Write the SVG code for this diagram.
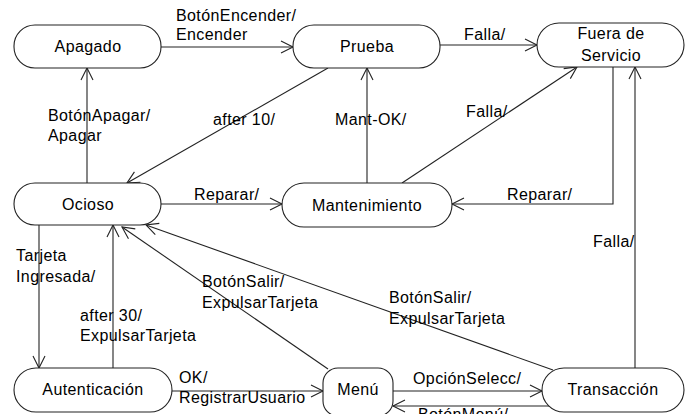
<svg xmlns="http://www.w3.org/2000/svg" width="691" height="414" viewBox="0 0 691 414">
<style>
.n{fill:#fff;stroke:#222;stroke-width:1.1}
.e{fill:none;stroke:#222;stroke-width:1.1;marker-end:url(#a)}
text{font-family:"Liberation Sans",Arial,sans-serif;font-size:16px;letter-spacing:0.4px;fill:#000}
.c{text-anchor:middle}
</style>
<defs>
<marker id="a" markerUnits="userSpaceOnUse" markerWidth="14" markerHeight="14" refX="12" refY="6" orient="auto" overflow="visible">
<path d="M0,0 L12,6 L0,12" fill="none" stroke="#222" stroke-width="1.1"/>
</marker>
</defs>
<rect width="691" height="414" fill="#fff"/>
<g id="connectors">
<line class="e" x1="161" y1="47" x2="293" y2="47"/>
<line class="e" x1="440" y1="45" x2="537" y2="45"/>
<line class="e" x1="328" y1="68" x2="127" y2="183"/>
<line class="e" x1="87" y1="183" x2="87" y2="68"/>
<line class="e" x1="367" y1="183" x2="367" y2="68"/>
<line class="e" x1="402" y1="183" x2="577" y2="67"/>
<polyline class="e" points="613,67 613,204 452,204"/>
<line class="e" x1="161" y1="204" x2="282" y2="204"/>
<line class="e" x1="635" y1="368" x2="635" y2="67"/>
<line class="e" x1="39" y1="225" x2="39" y2="368"/>
<line class="e" x1="113" y1="368" x2="113" y2="225"/>
<line class="e" x1="328" y1="369" x2="122" y2="227"/>
<line class="e" x1="553" y1="370" x2="146" y2="225"/>
<line class="e" x1="172" y1="391" x2="323" y2="391"/>
<line class="e" x1="393" y1="391" x2="542" y2="391"/>
<line class="e" x1="549" y1="406" x2="393" y2="406"/>
<text x="176" y="21">BotónEncender/</text>
<text x="176" y="40">Encender</text>
<text x="464" y="40">Falla/</text>
<text x="48" y="121">BotónApagar/</text>
<text x="48" y="141">Apagar</text>
<text x="213" y="125">after 10/</text>
<text x="335" y="125">Mant-OK/</text>
<text x="466" y="117">Falla/</text>
<text x="194" y="200">Reparar/</text>
<text x="507" y="200">Reparar/</text>
<text x="16" y="261">Tarjeta</text>
<text x="16" y="282">Ingresada/</text>
<text x="80" y="321">after 30/</text>
<text x="80" y="341">ExpulsarTarjeta</text>
<text x="202" y="287">BotónSalir/</text>
<text x="202" y="308">ExpulsarTarjeta</text>
<text x="389" y="303">BotónSalir/</text>
<text x="389" y="324">ExpulsarTarjeta</text>
<text x="593" y="247">Falla/</text>
<text x="179" y="383">OK/</text>
<text x="179" y="403">RegistrarUsuario</text>
<text x="413" y="384">OpciónSelecc/</text>
<text x="418" y="420">BotónMenú/</text>
</g>
<g id="apagado"><rect class="n" x="14" y="25" width="147" height="43" rx="21"/><text class="c" x="88" y="52">Apagado</text></g>
<g id="prueba"><rect class="n" x="293" y="25" width="147" height="43" rx="21"/><text class="c" x="367" y="52">Prueba</text></g>
<g id="fuera"><rect class="n" x="537" y="23" width="147" height="44" rx="22"/><text class="c" x="611" y="39">Fuera de</text><text class="c" x="611" y="61">Servicio</text></g>
<g id="ocioso"><rect class="n" x="14" y="183" width="147" height="42" rx="21"/><text class="c" x="88" y="210">Ocioso</text></g>
<g id="mantenimiento"><rect class="n" x="282" y="183" width="170" height="44" rx="22"/><text class="c" x="367" y="211">Mantenimiento</text></g>
<g id="autenticacion"><rect class="n" x="14" y="368" width="158" height="44" rx="22"/><text class="c" x="93" y="395">Autenticación</text></g>
<g id="menu"><rect class="n" x="323" y="368" width="70" height="48" rx="15"/><text class="c" x="358" y="395">Menú</text></g>
<g id="transaccion"><rect class="n" x="542" y="368" width="142" height="44" rx="22"/><text class="c" x="613" y="395">Transacción</text></g>
</svg>
